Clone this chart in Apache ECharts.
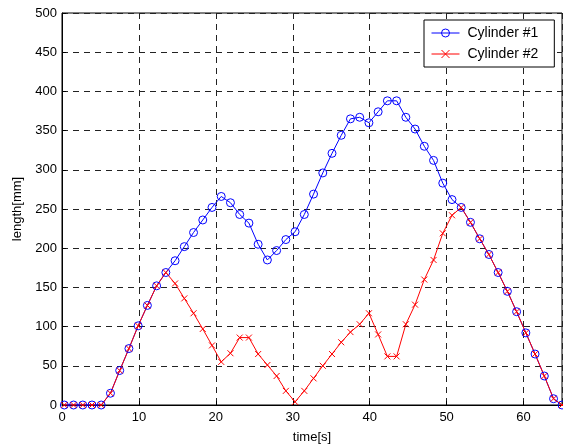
<!DOCTYPE html>
<html>
<head>
<meta charset="utf-8">
<script src="https://cdn.jsdelivr.net/npm/echarts@6/dist/echarts.min.js"></script>
<style>
  html, body { margin: 0; padding: 0; background: #fff; }
  #chart { width: 563px; height: 445px; }
</style>
</head>
<body>
<div id="chart"></div>
<script>
// sample times [s]
const times = [
  0.3, 1.5, 2.7, 3.9, 5.1, 6.3, 7.5, 8.7, 9.9, 11.1,
  12.3, 13.5, 14.7, 15.9, 17.1, 18.3, 19.5, 20.7, 21.9, 23.1,
  24.3, 25.5, 26.7, 27.9, 29.1, 30.3, 31.5, 32.7, 33.9, 35.1,
  36.3, 37.5, 38.7, 39.9, 41.1, 42.3, 43.5, 44.7, 45.9, 47.1,
  48.3, 49.5, 50.7, 51.9, 53.1, 54.3, 55.5, 56.7, 57.9, 59.1,
  60.3, 61.5, 62.7, 63.9, 65.0
]
const cylinder1 = [
  0, 0, 0, 0, 0, 15, 44, 72, 101, 127,
  152, 169, 184, 202, 220, 236, 252, 266, 258, 243,
  232, 205, 185, 197, 211, 221, 243, 269, 296, 321,
  344, 365, 367, 360, 374, 388, 388, 367, 352, 330,
  312, 283, 262, 252, 233, 212, 192, 169, 145, 119,
  92, 65, 37, 8, 0
]
const cylinder2 = [
  0, 0, 0, 0, 0, 15, 44, 72, 101, 127,
  152, 169, 155, 136, 117, 97, 76, 55, 66, 86,
  86, 65, 51, 37, 18, 4, 18, 34, 50, 65,
  80, 93, 103, 117, 90, 62, 62, 103, 128, 160,
  185, 219, 242, 252, 233, 212, 192, 169, 145, 119,
  92, 65, 37, 8, 0
]
const seriesNames = ['Cylinder #1', 'Cylinder #2']

const font = 'Liberation Sans, Arial, sans-serif'
const gridLine = { color: '#222', width: 1, type: [6, 5] }

const chart = echarts.init(document.getElementById('chart'))
chart.setOption({
  animation: false,
  textStyle: { fontFamily: font, color: '#000' },
  legend: {
    orient: 'vertical',
    left: 424,
    top: 20,
    padding: [6, 16, 6, 7],
    itemGap: 7,
    itemWidth: 28,
    itemHeight: 10,
    lineStyle: { width: 1 },
    itemStyle: { borderWidth: 1 },
    backgroundColor: '#fff',
    borderColor: '#000',
    borderWidth: 1,
    borderRadius: 0,
    textStyle: { fontSize: 14, fontFamily: font, color: '#000', padding: [0, 0, 0, 3] },
    data: seriesNames
  },
  grid: {
    left: 62,
    right: 1,
    top: 13,
    bottom: 40,
    show: true,
    borderColor: '#000',
    borderWidth: 1,
    containLabel: false,
    outerBoundsMode: 'none'
  },
  xAxis: {
    type: 'value',
    min: 0,
    max: 65,
    interval: 10,
    name: 'time[s]',
    nameLocation: 'middle',
    nameGap: 26,
    nameTextStyle: { fontSize: 13, fontFamily: font, color: '#000' },
    axisLine: { lineStyle: { color: '#000', width: 1 } },
    axisTick: { inside: true, length: 4, lineStyle: { color: '#000' } },
    axisLabel: { fontSize: 13, color: '#000', margin: 6, showMaxLabel: false },
    splitLine: { lineStyle: gridLine }
  },
  yAxis: {
    type: 'value',
    min: 0,
    max: 500,
    interval: 50,
    name: 'length[mm]',
    nameLocation: 'middle',
    nameGap: 37,
    nameTextStyle: { fontSize: 13, fontFamily: font, color: '#000' },
    axisLine: { show: true, lineStyle: { color: '#000', width: 1 } },
    axisTick: { show: true, inside: true, length: 4, lineStyle: { color: '#000' } },
    axisLabel: { fontSize: 13, color: '#000', margin: 5 },
    splitLine: { lineStyle: gridLine }
  },
  series: [
    {
      name: seriesNames[0],
      type: 'line',
      data: times.map((t, i) => [t, cylinder1[i]]),
      symbol: 'circle',
      symbolSize: 8,
      showAllSymbol: true,
      lineStyle: { color: '#0000ff', width: 1 },
      itemStyle: { color: 'rgba(0,0,0,0)', borderColor: '#0000ff', borderWidth: 1 }
    },
    {
      name: seriesNames[1],
      type: 'line',
      data: times.map((t, i) => [t, cylinder2[i]]),
      symbol: 'path://M0,0L10,10M10,0L0,10',
      symbolSize: 6,
      showAllSymbol: true,
      lineStyle: { color: '#ff0000', width: 1 },
      itemStyle: { color: 'rgba(0,0,0,0)', borderColor: '#ff0000', borderWidth: 1 }
    }
  ]
})
</script>
</body>
</html>
